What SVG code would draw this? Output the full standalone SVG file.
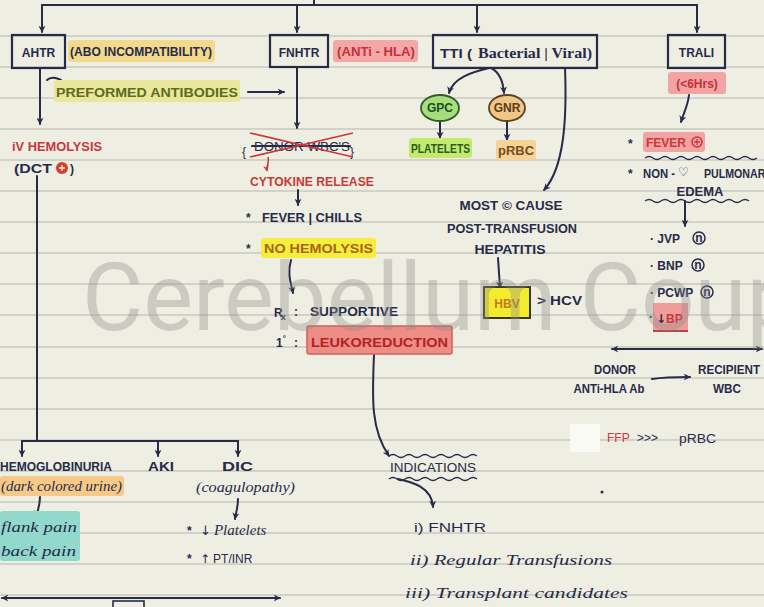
<svg xmlns="http://www.w3.org/2000/svg" width="764" height="607" viewBox="0 0 764 607">
  <style>
    .t { fill:#262b4a; font-family:"Liberation Sans", Arial, sans-serif; font-weight:bold; font-size:12px; }
    .hand { fill:#262b4a; font-family:"Liberation Serif", "Times New Roman", serif; font-style:italic; font-size:15px; }
    .sym { font-family:"DejaVu Sans", sans-serif; font-style:normal; }
    .red { fill:#c8393a; }
    .ln { stroke:#262b4a; stroke-width:2; fill:none; stroke-linecap:round; }
    .rl { stroke:#c8393a; stroke-width:1.6; fill:none; }
    .arr { marker-end:url(#ah); }
    .box { fill:none; stroke:#262b4a; stroke-width:2.2; }
    .rule { stroke:#c9c9c0; stroke-width:1.4; }
    .wave { stroke:#262b4a; stroke-width:1.3; fill:none; }
  </style>
  <defs>
    <marker id="ah" viewBox="0 0 10 10" refX="9" refY="5" markerWidth="7" markerHeight="7" orient="auto" markerUnits="userSpaceOnUse">
      <path d="M0,0 L10,5 L0,10 L3,5 z" fill="#262b4a"/>
    </marker>
    <marker id="ahs" viewBox="0 0 10 10" refX="1" refY="5" markerWidth="7" markerHeight="7" orient="auto" markerUnits="userSpaceOnUse">
      <path d="M10,0 L0,5 L10,10 L7,5 z" fill="#262b4a"/>
    </marker>
    <marker id="ahr" viewBox="0 0 10 10" refX="9" refY="5" markerWidth="6" markerHeight="6" orient="auto" markerUnits="userSpaceOnUse">
      <path d="M0,0 L10,5 L0,10 L3,5 z" fill="#c8393a"/>
    </marker>
  </defs>

  <!-- ruled paper -->
  <rect x="0" y="0" width="764" height="607" fill="#efeee2"/>
  <g id="ruling">
    <line class="rule" x1="0" y1="36" x2="764" y2="36"/>
    <line class="rule" x1="0" y1="67" x2="764" y2="67"/>
    <line class="rule" x1="0" y1="98" x2="764" y2="98"/>
    <line class="rule" x1="0" y1="129" x2="764" y2="129"/>
    <line class="rule" x1="0" y1="160" x2="764" y2="160"/>
    <line class="rule" x1="0" y1="191" x2="764" y2="191"/>
    <line class="rule" x1="0" y1="222" x2="764" y2="222"/>
    <line class="rule" x1="0" y1="253" x2="764" y2="253"/>
    <line class="rule" x1="0" y1="284" x2="764" y2="284"/>
    <line class="rule" x1="0" y1="315" x2="764" y2="315"/>
    <line class="rule" x1="0" y1="347" x2="764" y2="347"/>
    <line class="rule" x1="0" y1="378" x2="764" y2="378"/>
    <line class="rule" x1="0" y1="409" x2="764" y2="409"/>
    <line class="rule" x1="0" y1="440" x2="764" y2="440"/>
    <line class="rule" x1="0" y1="471" x2="764" y2="471"/>
    <line class="rule" x1="0" y1="502" x2="764" y2="502"/>
    <line class="rule" x1="0" y1="533" x2="764" y2="533"/>
    <line class="rule" x1="0" y1="564" x2="764" y2="564"/>
    <line class="rule" x1="0" y1="595" x2="764" y2="595"/>
  </g>

  <!-- connectors -->
  <g id="connectors">
    <path class="ln" d="M42,5 H697"/>
    <path class="ln" d="M314,0 V5"/>
    <path class="ln arr" d="M42,5 V32"/>
    <path class="ln arr" d="M297,5 V32"/>
    <path class="ln arr" d="M477,5 V32"/>
    <path class="ln arr" d="M697,5 V32"/>
    <!-- AHTR branch -->
    <path class="ln arr" d="M40,68 V124"/>
    <path class="ln" d="M61,80 C55,77 50,77 47,80" stroke-width="1.6"/>
    <path class="ln arr" d="M248,92 H284"/>
    <path class="ln" d="M37,176 V441"/>
    <path class="ln" d="M22,441 H238"/>
    <path class="ln arr" d="M22,441 V456"/>
    <path class="ln arr" d="M158,441 V456"/>
    <path class="ln arr" d="M238,441 V456"/>
    <path class="ln arr" d="M40,497 C40,505 38,510 36,517"/>
    <path class="ln arr" d="M238,499 C238,507 236,512 235,519"/>
    <path class="ln arr" d="M2,598 H280" marker-start="url(#ahs)"/>
    <!-- FNHTR branch -->
    <path class="ln arr" d="M297,67 V128"/>
    <path class="rl" d="M268,157 C270,162 266,166 267,171" marker-end="url(#ahr)"/>
    <path class="ln arr" d="M298,190 V205"/>
    <path class="ln arr" d="M291,260 C287,274 291,283 293,293"/>
    <path class="ln arr" d="M374,355 C372,400 371,430 389,456"/>
    <path class="ln arr" d="M398,479 C412,482 432,487 433,507"/>
    <!-- TTI branch -->
    <path class="ln arr" d="M489,68 C472,72 453,78 449,93"/>
    <path class="ln arr" d="M491,68 C499,72 503,80 504,93"/>
    <path class="ln arr" d="M440,121 V138"/>
    <path class="ln arr" d="M507,121 V140"/>
    <path class="ln arr" d="M565,68 C567,120 564,168 544,190"/>
    <path class="ln arr" d="M498,258 L500,288"/>
    <!-- TRALI branch -->
    <path class="ln arr" d="M689,95 C688,105 684,112 681,122"/>
    <path class="ln arr" d="M685,201 V226"/>
    <path class="ln arr" d="M612,349 H762" marker-start="url(#ahs)"/>
    <path class="ln arr" d="M652,379 C665,377 678,377 690,377"/>
  </g>

  <!-- AHTR -->
  <g id="ahtr">
    <rect class="box" x="12" y="35" width="53" height="33"/>
    <text class="t" x="38.5" y="57" text-anchor="middle" font-size="15">AHTR</text>
    <rect x="68" y="40" width="147" height="22" fill="#f3d98c" rx="3"/>
    <text class="t" x="70" y="56" font-size="10.5" textLength="142" lengthAdjust="spacingAndGlyphs">(ABO INCOMPATIBILITY)</text>
  </g>
  <g id="preformed">
    <rect x="54" y="80" width="186" height="22" fill="#e9e79b" rx="3"/>
    <text class="t" x="56" y="97" style="fill:#5e6b22" textLength="182" lengthAdjust="spacingAndGlyphs">PREFORMED  ANTIBODIES</text>
  </g>
  <g id="hemolysis">
    <text class="t red" x="12" y="151" textLength="90" lengthAdjust="spacingAndGlyphs">iV HEMOLYSIS</text>
    <text class="t" x="14" y="173" textLength="38" lengthAdjust="spacingAndGlyphs">(DCT</text>
    <circle cx="62" cy="168" r="6" fill="#d2402f"/>
    <path d="M59,168 H65 M62,165 V171" stroke="#fbe0d0" stroke-width="1.4"/>
    <text class="t" x="70" y="173">)</text>
  </g>
  <g id="hemoglobinuria">
    <text class="t" x="0" y="471" font-size="11.5" textLength="112" lengthAdjust="spacingAndGlyphs">HEMOGLOBINURIA</text>
    <rect x="0" y="476" width="124" height="20" fill="#f6c988" rx="3"/>
    <text class="hand" x="1" y="491" font-size="13" textLength="121" lengthAdjust="spacingAndGlyphs">(dark colored urine)</text>
    <rect x="0" y="511" width="80" height="50" fill="#93d8cc" rx="3"/>
    <text class="hand" x="1" y="532" textLength="76" lengthAdjust="spacingAndGlyphs">flank pain</text>
    <text class="hand" x="1" y="556" textLength="75" lengthAdjust="spacingAndGlyphs">back pain</text>
  </g>
  <g id="aki">
    <text class="t" x="148" y="471" font-size="13" textLength="26" lengthAdjust="spacingAndGlyphs">AKI</text>
  </g>
  <g id="dic">
    <text class="t" x="222" y="471" font-size="14" textLength="31" lengthAdjust="spacingAndGlyphs">DIC</text>
    <text class="hand" x="196" y="492" font-size="14" textLength="99" lengthAdjust="spacingAndGlyphs">(coagulopathy)</text>
    <text class="t" x="187" y="535" font-size="13">*</text>
    <text class="hand" x="200" y="535"><tspan class="sym" font-size="13">↓</tspan><tspan dx="3">Platelets</tspan></text>
    <text class="t" x="187" y="563" font-size="13">*</text>
    <text class="t" x="200" y="563" font-size="13" style="font-weight:normal"><tspan class="sym">↑</tspan><tspan dx="3">PT/INR</tspan></text>
  </g>
  <g id="footer-box">
    <rect x="113" y="601" width="31" height="14" fill="none" stroke="#262b4a" stroke-width="1.6"/>
  </g>

  <!-- FNHTR -->
  <g id="fnhtr">
    <rect class="box" x="270" y="35" width="58" height="32"/>
    <text class="t" x="299" y="57" text-anchor="middle" font-size="14">FNHTR</text>
    <rect x="333" y="40" width="85" height="22" fill="#f3a7a7" rx="3"/>
    <text class="t" x="337" y="56" style="fill:#c8303a" font-size="11" textLength="78" lengthAdjust="spacingAndGlyphs">(ANTi - HLA)</text>
  </g>
  <g id="donor-wbc">
    <text class="t" x="242" y="156" font-size="26" style="font-weight:normal">{</text>
    <text class="t" x="350" y="156" font-size="26" style="font-weight:normal">}</text>
    <text class="t" x="254" y="151" font-size="12" style="font-weight:normal" textLength="96" lengthAdjust="spacingAndGlyphs">DONOR  WBC'S</text>
    <path class="ln" d="M252,146 H350" stroke-width="1.5"/>
    <path class="rl" d="M250,133 L353,157 M250,157 L353,133"/>
  </g>
  <g id="cytokine">
    <text class="t red" x="250" y="186" textLength="124" lengthAdjust="spacingAndGlyphs">CYTOKINE RELEASE</text>
  </g>
  <g id="fever-chills">
    <text class="t" x="246" y="222">*</text>
    <text class="t" x="262" y="222" textLength="100" lengthAdjust="spacingAndGlyphs">FEVER | CHILLS</text>
  </g>
  <g id="no-hemolysis">
    <text class="t" x="246" y="253">*</text>
    <rect x="261" y="238" width="115" height="20" fill="#f5ee3c" rx="3"/>
    <text class="t" x="264" y="253" style="fill:#a8641a" textLength="109" lengthAdjust="spacingAndGlyphs">NO HEMOLYSIS</text>
  </g>
  <g id="treatment">
    <text class="t" x="274" y="317" font-size="14">R<tspan dx="-2" dy="3" font-size="9">x</tspan></text>
    <text class="t" x="294" y="316">:</text>
    <text class="t" x="310" y="316" textLength="88" lengthAdjust="spacingAndGlyphs">SUPPORTIVE</text>
    <text class="t" x="276" y="347" font-size="13">1<tspan dy="-6" font-size="8">°</tspan></text>
    <text class="t" x="294" y="347">:</text>
  </g>
  <g id="leukoreduction">
    <rect x="307" y="326" width="145" height="28" fill="#ee8c86" stroke="#d0605c" stroke-width="1.5" rx="2"/>
    <text class="t" x="311" y="347" font-size="14" style="fill:#b3221f" textLength="137" lengthAdjust="spacingAndGlyphs">LEUKOREDUCTION</text>
  </g>
  <g id="indications">
    <path class="wave" d="M389,456 q4,-3 8,0 t8,0 t8,0 t8,0 t8,0 t8,0 t8,0 t8,0 t8,0 t8,0 t8,0"/>
    <text class="t" x="390" y="472" font-size="12" style="font-weight:normal" textLength="86" lengthAdjust="spacingAndGlyphs">INDICATIONS</text>
    <path class="wave" d="M389,479 q4,-3 8,0 t8,0 t8,0 t8,0 t8,0 t8,0 t8,0 t8,0 t8,0 t8,0 t8,0"/>
    <text class="t" x="414" y="532" font-size="13" style="font-weight:normal" textLength="72" lengthAdjust="spacingAndGlyphs">i) FNHTR</text>
    <text class="hand" x="410" y="565" textLength="202" lengthAdjust="spacingAndGlyphs">ii) Regular Transfusions</text>
    <text class="hand" x="405" y="598" textLength="223" lengthAdjust="spacingAndGlyphs">iii) Transplant  candidates</text>
  </g>

  <!-- TTI -->
  <g id="tti">
    <rect class="box" x="433" y="35" width="164" height="33"/>
    <text class="t" x="440" y="58" font-size="15" textLength="32" lengthAdjust="spacingAndGlyphs">TTI (</text>
    <text class="hand" x="478" y="58" font-size="15" style="font-style:normal;font-weight:bold" textLength="114" lengthAdjust="spacingAndGlyphs">Bacterial | Viral)</text>
  </g>
  <g id="gpc">
    <ellipse cx="440" cy="108" rx="19" ry="13" fill="#a6de7a" stroke="#2f5a2a" stroke-width="1.8"/>
    <text class="t" x="440" y="112" text-anchor="middle" font-size="11" style="fill:#234a20">GPC</text>
    <rect x="409" y="138" width="63" height="20" fill="#c2ea6e" rx="3"/>
    <text class="t" x="411" y="153" font-size="10.5" style="fill:#2e5a1a" textLength="59" lengthAdjust="spacingAndGlyphs">PLATELETS</text>
  </g>
  <g id="gnr">
    <ellipse cx="507" cy="108" rx="18" ry="13" fill="#f0c684" stroke="#5a4520" stroke-width="1.8"/>
    <text class="t" x="507" y="112" text-anchor="middle" font-size="11" style="fill:#5a3a1a">GNR</text>
    <rect x="496" y="140" width="40" height="20" fill="#f5d597" rx="3"/>
    <text class="t" x="498" y="155" font-size="11" style="fill:#7a4a1a" textLength="36" lengthAdjust="spacingAndGlyphs">pRBC</text>
  </g>
  <g id="hepatitis">
    <text class="t" x="511" y="210" text-anchor="middle" font-size="11" textLength="103" lengthAdjust="spacingAndGlyphs">MOST © CAUSE</text>
    <text class="t" x="512" y="233" text-anchor="middle" font-size="11" textLength="130" lengthAdjust="spacingAndGlyphs">POST-TRANSFUSION</text>
    <text class="t" x="510" y="254" text-anchor="middle" font-size="11" textLength="71" lengthAdjust="spacingAndGlyphs">HEPATITIS</text>
  </g>
  <g id="hbv">
    <rect x="484" y="287" width="46" height="31" fill="#f3ec2e" stroke="#3a3a1a" stroke-width="2"/>
    <text class="t" x="507" y="308" text-anchor="middle" font-size="14" style="fill:#c47a20">HBV</text>
    <text class="t" x="537" y="305" font-size="13" textLength="45" lengthAdjust="spacingAndGlyphs">&gt; HCV</text>
  </g>

  <!-- TRALI -->
  <g id="trali">
    <rect class="box" x="668" y="35" width="57" height="33"/>
    <text class="t" x="696.5" y="57" text-anchor="middle" font-size="13">TRALI</text>
    <rect x="668" y="72" width="58" height="22" fill="#f2a3a3" rx="3"/>
    <text class="t" x="697" y="88" text-anchor="middle" font-size="11" style="fill:#c8303a">(&lt;6Hrs)</text>
  </g>
  <g id="trali-features">
    <text class="t" x="628" y="148">*</text>
    <rect x="643" y="132" width="62" height="20" fill="#f2a3a3" rx="3"/>
    <text class="t red" x="646" y="147" font-size="11" textLength="40" lengthAdjust="spacingAndGlyphs">FEVER</text>
    <circle cx="697" cy="142" r="5" fill="none" stroke="#c8393a" stroke-width="1.6"/>
    <path d="M694,142 H700 M697,139 V145" stroke="#c8393a" stroke-width="1.3"/>
    <path class="wave" d="M645,158 q4,-3 8,0 t8,0 t8,0 t8,0 t8,0 t8,0 t8,0 t8,0 t8,0 t8,0 t8,0 t8,0 t8,0 t8,0"/>
    <text class="t" x="628" y="178">*</text>
    <text class="t" x="643" y="178" font-size="11" textLength="32" lengthAdjust="spacingAndGlyphs">NON -</text>
    <text class="t sym" x="678" y="176" font-size="12">♡</text>
    <text class="t" x="704" y="178" font-size="11" textLength="68" lengthAdjust="spacingAndGlyphs">PULMONARY</text>
    <text class="t" x="700" y="196" text-anchor="middle" font-size="11" textLength="47" lengthAdjust="spacingAndGlyphs">EDEMA</text>
    <path class="wave" d="M645,201 q4,-3 8,0 t8,0 t8,0 t8,0 t8,0 t8,0 t8,0 t8,0 t8,0 t8,0 t8,0 t8,0 t8,0"/>
  </g>
  <g id="trali-signs">
    <text class="t" x="650" y="243" font-size="11">· JVP</text>
    <circle cx="699" cy="238" r="6" fill="none" stroke="#262b4a" stroke-width="1.5"/>
    <text class="t" x="699" y="242" text-anchor="middle" font-size="9">n</text>
    <text class="t" x="650" y="270" font-size="11">· BNP</text>
    <circle cx="698" cy="265" r="6" fill="none" stroke="#262b4a" stroke-width="1.5"/>
    <text class="t" x="698" y="269" text-anchor="middle" font-size="9">n</text>
    <text class="t" x="650" y="297" font-size="11">· PCWP</text>
    <circle cx="707" cy="292" r="6" fill="none" stroke="#262b4a" stroke-width="1.5"/>
    <text class="t" x="707" y="296" text-anchor="middle" font-size="9">n</text>
    <rect x="653" y="303" width="35" height="28" fill="#ef9c9a"/>
    <path d="M653,331 H688" stroke="#b04a4a" stroke-width="2"/>
    <text class="t" x="649" y="321" font-size="11">·</text>
    <text class="t red" x="656" y="323" font-size="13"><tspan class="sym" style="fill:#262b4a">↓</tspan>BP</text>
  </g>
  <g id="donor-recipient">
    <text class="t" x="615" y="374" text-anchor="middle" font-size="10" textLength="42" lengthAdjust="spacingAndGlyphs">DONOR</text>
    <text class="t" x="609" y="393" text-anchor="middle" font-size="10" textLength="71" lengthAdjust="spacingAndGlyphs">ANTi-HLA Ab</text>
    <text class="t" x="729" y="374" text-anchor="middle" font-size="10" textLength="62" lengthAdjust="spacingAndGlyphs">RECIPIENT</text>
    <text class="t" x="727" y="393" text-anchor="middle" font-size="10" textLength="28" lengthAdjust="spacingAndGlyphs">WBC</text>
  </g>
  <g id="ffp">
    <rect x="570" y="424" width="30" height="28" fill="#fafaf4"/>
    <text class="t red" x="607" y="442" font-size="12" style="font-weight:normal">FFP</text>
    <text class="t" x="637" y="442" font-size="11" style="font-weight:normal">&gt;&gt;&gt;</text>
    <text class="t" x="679" y="443" font-size="12" style="font-weight:normal" textLength="37" lengthAdjust="spacingAndGlyphs">pRBC</text>
    <circle cx="602" cy="492" r="1.5" fill="#262b4a"/>
  </g>

  <!-- watermark -->
  <text x="82" y="330" font-family="Roboto, 'Liberation Sans', sans-serif" font-size="94" fill="#8e8e8a" fill-opacity="0.36">Cerebellum Coup</text>
</svg>
